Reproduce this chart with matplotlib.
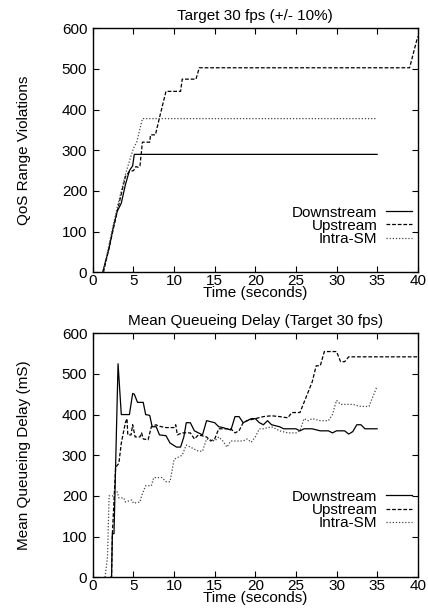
import matplotlib
matplotlib.use("Agg")
import matplotlib.pyplot as plt

# ---- top panel: QoS range violations ----
qos_down_t = [1.2, 2.0, 2.5, 3.0, 3.5, 4.0, 4.5, 4.9, 5.1, 5.6, 35.0]
qos_down_v = [0, 60, 110, 150, 170, 215, 250, 262, 290, 290, 290]

qos_up_t = [1.3, 2.0, 3.0, 4.0, 4.5, 5.0, 5.3, 5.6, 5.8, 6.1, 7.0, 7.1, 7.7, 8.2,
            9.0, 10.8, 11.0, 12.7, 13.1, 39.0, 40.0]
qos_up_v = [0, 60, 150, 235, 248, 250, 260, 258, 262, 320, 320, 338, 338, 380,
            445, 445, 475, 475, 503, 503, 580]

qos_intra_t = [1.3, 2.0, 3.0, 4.0, 4.6, 5.0, 5.4, 6.1, 35.0]
qos_intra_v = [0, 70, 160, 240, 280, 305, 320, 378, 378]

# ---- bottom panel: mean queueing delay ----
del_down_t = [2.3, 2.4, 2.6, 3.1, 3.5, 4.5, 4.9, 5.1, 5.5, 6.2, 6.5, 7.0, 7.3, 7.8,
              8.2, 9.0, 9.5, 10.3, 10.8, 11.2, 11.5, 12.0, 12.5, 13.5, 14.0, 15.0,
              15.5, 16.0, 17.0, 17.5, 18.0, 18.5, 19.5, 20.0, 20.5, 21.0, 21.5, 22.0,
              23.0, 23.5, 25.0, 25.5, 26.0, 27.0, 28.0, 29.0, 29.5, 30.0, 31.0, 31.5,
              32.0, 32.5, 33.0, 33.5, 35.0]
del_down_v = [0, 107, 107, 525, 400, 400, 452, 450, 430, 430, 400, 398, 370, 370,
              350, 348, 330, 320, 320, 345, 380, 380, 360, 350, 385, 380,
              370, 368, 362, 395, 395, 380, 390, 390, 380, 375, 385, 375,
              370, 365, 365, 360, 365, 365, 360, 360, 355, 360, 360, 352,
              358, 375, 375, 365, 365]

del_up_t = [2.1, 2.3, 2.4, 2.8, 3.2, 3.5, 4.0, 4.2, 4.3, 4.7, 4.9, 5.2, 5.8, 6.0,
            6.2, 6.8, 7.2, 7.8, 8.0, 9.0, 10.0, 10.2, 10.4, 11.0, 12.0, 12.5, 13.0,
            14.0, 14.5, 15.0, 15.5, 17.0, 17.5, 18.0, 18.5, 19.0, 20.0, 21.0, 22.0,
            23.0, 24.0, 24.5, 25.5, 26.0, 27.0, 27.5, 28.0, 28.5, 30.0, 30.5, 31.0,
            31.5, 40.0]
del_up_v = [0, 0, 107, 270, 280, 330, 380, 390, 350, 350, 375, 345, 345, 355,
            340, 338, 370, 375, 372, 368, 368, 375, 350, 355, 355, 340, 350,
            345, 335, 340, 365, 365, 355, 360, 380, 385, 390, 395, 397,
            395, 392, 405, 405, 430, 480, 520, 520, 555, 555, 530, 530,
            542, 542]

del_intra_t = [1.5, 1.8, 2.0, 2.5, 3.0, 3.2, 3.8, 4.0, 4.8, 5.0, 5.8, 6.0, 6.5,
               7.2, 7.5, 8.5, 9.0, 9.5, 10.0, 10.5, 11.0, 11.5, 12.0, 13.0, 13.5,
               14.0, 15.0, 15.5, 16.0, 16.5, 17.0, 18.5, 19.0, 19.5, 20.0, 20.5,
               21.0, 22.0, 23.0, 24.0, 25.0, 25.5, 26.0, 26.5, 27.0, 28.0, 29.0,
               29.5, 30.0, 30.5, 32.0, 33.0, 34.0, 34.5, 35.0]
del_intra_v = [0, 50, 200, 200, 210, 195, 195, 185, 190, 182, 185, 200, 225,
               225, 245, 245, 235, 235, 290, 295, 300, 325, 320, 310, 310,
               340, 335, 345, 335, 320, 335, 335, 340, 332, 345, 365,
               365, 370, 360, 355, 355, 360, 390, 385, 390, 385, 385,
               400, 435, 425, 425, 420, 420, 445, 470]

labels = ["Downstream", "Upstream", "Intra-SM"]
x_ticks = [0, 5, 10, 15, 20, 25, 30, 35, 40]
y_ticks = [0, 100, 200, 300, 400, 500, 600]

plt.rcParams.update({"font.family": "Liberation Sans", "font.size": 11})

styles = [dict(color="black", lw=0.9, ls="-"),
          dict(color="black", lw=0.9, ls=(0, (3, 1.5))),
          dict(color="#444444", lw=0.9, ls=(0, (1, 1.5)))]

fig = plt.figure(figsize=(4.28, 6.16), dpi=100)
ax1 = fig.add_axes([0.217, 0.558, 0.759, 0.396])
ax2 = fig.add_axes([0.217, 0.063, 0.759, 0.396])


def setup(ax, title, ylabel, leg_y):
    ax.set_xlim(0, 40)
    ax.set_ylim(0, 600)
    ax.set_xticks(x_ticks)
    ax.set_yticks(y_ticks)
    ax.tick_params(direction="in", length=4, width=0.8, top=True, right=True)
    ax.tick_params(axis="x", pad=1)
    ax.tick_params(axis="y", pad=4)
    ax.set_title(title, fontsize=11, pad=6)
    ax.set_xlabel("Time (seconds)", labelpad=-1)
    ax.set_ylabel(ylabel)
    ax.yaxis.set_label_coords(-0.19, 0.5)
    for s in ax.spines.values():
        s.set_linewidth(1.0)
    ax.legend(loc="lower right", bbox_to_anchor=(1.012, leg_y), frameon=False,
              markerfirst=False, handlelength=1.7, handletextpad=0.6,
              labelspacing=-0.05, borderaxespad=0.2, fontsize=11)


series1 = [(qos_down_t, qos_down_v), (qos_up_t, qos_up_v), (qos_intra_t, qos_intra_v)]
for (t, v), lab, st in zip(series1, labels, styles):
    ax1.plot(t, v, label=lab, **st)
setup(ax1, "Target 30 fps (+/- 10%)", "QoS Range Violations", 0.07)

series2 = [(del_down_t, del_down_v), (del_up_t, del_up_v), (del_intra_t, del_intra_v)]
for (t, v), lab, st in zip(series2, labels, styles):
    ax2.plot(t, v, label=lab, **st)
setup(ax2, "Mean Queueing Delay (Target 30 fps)", "Mean Queueing Delay (mS)", 0.155)

fig.savefig("out.png", dpi=100)
